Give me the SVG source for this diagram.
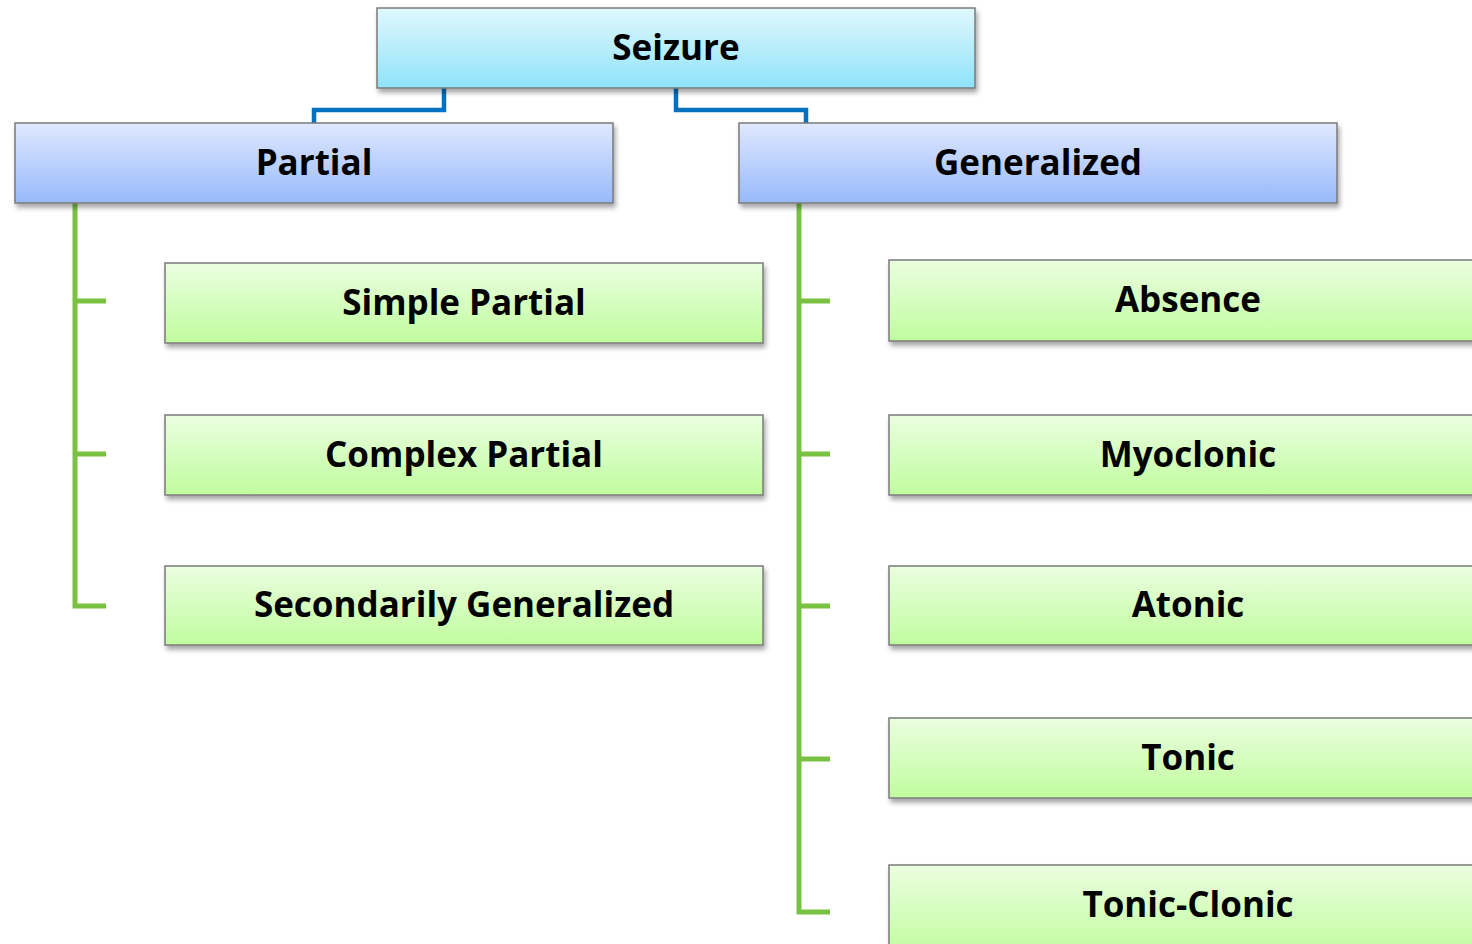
<svg xmlns="http://www.w3.org/2000/svg" width="1472" height="944" viewBox="0 0 1472 944">
<defs>
<linearGradient id="gTop" x1="0" y1="0" x2="0" y2="1"><stop offset="0" stop-color="#E0F8FE"/><stop offset="1" stop-color="#8FE3F9"/></linearGradient>
<linearGradient id="gMid" x1="0" y1="0" x2="0" y2="1"><stop offset="0" stop-color="#DFE8FE"/><stop offset="1" stop-color="#98B9FB"/></linearGradient>
<linearGradient id="gLeaf" x1="0" y1="0" x2="0" y2="1"><stop offset="0" stop-color="#EBFEE0"/><stop offset="1" stop-color="#C0FC9E"/></linearGradient>
<filter id="sh" x="-5%" y="-20%" width="112%" height="150%"><feGaussianBlur in="SourceAlpha" stdDeviation="2.5"/><feOffset dx="2" dy="4"/><feComponentTransfer><feFuncA type="linear" slope="0.35"/></feComponentTransfer><feMerge><feMergeNode/><feMergeNode in="SourceGraphic"/></feMerge></filter>
</defs>
<style>
.box{stroke:#7A7A7A;stroke-width:1.5;filter:url(#sh)}
.top{fill:url(#gTop)}
.mid{fill:url(#gMid)}
.leaf{fill:url(#gLeaf)}
.t{font-family:"Open Sans","Liberation Sans",sans-serif;font-weight:bold;font-size:35px;fill:#000;text-anchor:middle}
.blue{fill:none;stroke:#0070C0;stroke-width:4.5}
.green{fill:none;stroke:#7AC143;stroke-width:5}
</style>
<rect width="1472" height="944" fill="#FFFFFF"/>
<g id="connectors">
<path class="blue" d="M444 88 V110 H314 V123"/>
<path class="blue" d="M676 88 V110 H806 V123"/>
<path class="green" d="M75 203 V606 H106 M75 301 H106 M75 454 H106"/>
<path class="green" d="M799 203 V912 H830 M799 301 H830 M799 454 H830 M799 606 H830 M799 759 H830"/>
</g>
<g id="seizure"><rect class="box top" x="377" y="8" width="598" height="80"/><text class="t" x="676" y="60">Seizure</text></g>
<g id="partial"><rect class="box mid" x="15" y="123" width="598" height="80"/><text class="t" x="314" y="175">Partial</text></g>
<g id="generalized"><rect class="box mid" x="739" y="123" width="598" height="80"/><text class="t" x="1038" y="175">Generalized</text></g>
<g id="simple-partial"><rect class="box leaf" x="165" y="263" width="598" height="80"/><text class="t" x="464" y="315">Simple Partial</text></g>
<g id="complex-partial"><rect class="box leaf" x="165" y="415" width="598" height="80"/><text class="t" x="464" y="467">Complex Partial</text></g>
<g id="secondarily-generalized"><rect class="box leaf" x="165" y="566" width="598" height="79"/><text class="t" x="464" y="617">Secondarily Generalized</text></g>
<g id="absence"><rect class="box leaf" x="889" y="260" width="598" height="81"/><text class="t" x="1188" y="312">Absence</text></g>
<g id="myoclonic"><rect class="box leaf" x="889" y="415" width="598" height="80"/><text class="t" x="1188" y="467">Myoclonic</text></g>
<g id="atonic"><rect class="box leaf" x="889" y="566" width="598" height="79"/><text class="t" x="1188" y="617">Atonic</text></g>
<g id="tonic"><rect class="box leaf" x="889" y="718" width="598" height="80"/><text class="t" x="1188" y="770">Tonic</text></g>
<g id="tonic-clonic"><rect class="box leaf" x="889" y="865" width="598" height="90"/><text class="t" x="1188" y="917">Tonic-Clonic</text></g>
</svg>
